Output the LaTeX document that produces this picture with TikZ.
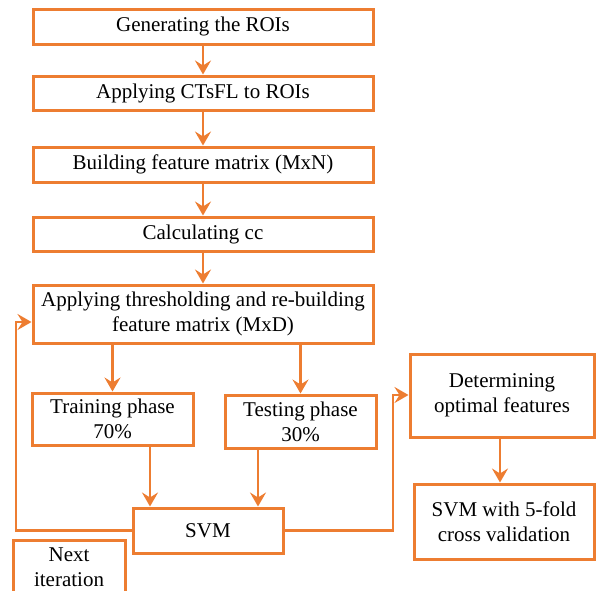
\documentclass[tikz,border=0pt]{standalone}
\usepackage{fontspec}
\setmainfont{Liberation Serif}
\usepackage{tikz}
\usetikzlibrary{arrows.meta}
\definecolor{orng}{HTML}{ED7D31}

\begin{document}
\begin{tikzpicture}[x=1pt,y=-1pt]
\tikzstyle{every node}=[draw=orng,line width=3pt,shape=rectangle,align=center,inner sep=0pt,font=\fontsize{21}{25}\selectfont];
\tikzstyle{link}=[draw=orng,line width=2.5pt,-{Stealth[length=14pt,width=16pt,inset=5pt]}];
\clip (0,0) rectangle (596,590);
\node [minimum width=340, minimum height=35] (roi) at (203, 26.5) {Generating the ROIs};
\node [minimum width=340, minimum height=34] (ctsfl) at (203, 93) {Applying CTsFL to ROIs};
\node [minimum width=340, minimum height=35] (mxn) at (203, 164.5) {Building feature matrix (MxN)};
\node [minimum width=340, minimum height=34] (cc) at (203, 234) {Calculating cc};
\node [minimum width=340, minimum height=58] (mxd) at (203, 314) {Applying thresholding and re-building\\feature matrix (MxD)};
\node [minimum width=161, minimum height=52] (train) at (112.5, 419) {Training phase\\70\%};
\node [minimum width=151, minimum height=53] (test) at (300.5, 421.5) {Testing phase\\30\%};
\node [minimum width=150, minimum height=45] (svm) at (208, 530.5) {SVM};
\node [minimum width=112, minimum height=54] (next) at (69, 567) {Next\\iteration};
\node [minimum width=184, minimum height=83] (opt) at (502, 395.5) {Determining\\optimal features};
\node [minimum width=180, minimum height=75] (cv) at (504, 521.5) {SVM with 5-fold\\cross validation};
\coordinate (back) at (16, 322);
\coordinate (fwd) at (393, 395);
\draw [link]  (roi) -- (ctsfl);
\draw [link]  (ctsfl) -- (mxn);
\draw [link]  (mxn) -- (cc);
\draw [link]  (cc) -- (mxd);
\draw [link]  (mxd.south -| train) -- (train.north);
\draw [link]  (mxd.south -| test) -- (test.north);
\draw [link]  ([xshift=37.5]train.south) -- ([xshift=-58]svm.north);
\draw [link]  ([xshift=-42.5]test.south) -- ([xshift=50]svm.north);
\draw [link]  (svm.west) -| (back) -- (back -| mxd.west);
\draw [link]  (svm.east) -| (fwd) -- (fwd -| opt.west);
\draw [link]  ([xshift=-2]opt.south) -- ([xshift=-4]cv.north);
\end{tikzpicture}
\end{document}
